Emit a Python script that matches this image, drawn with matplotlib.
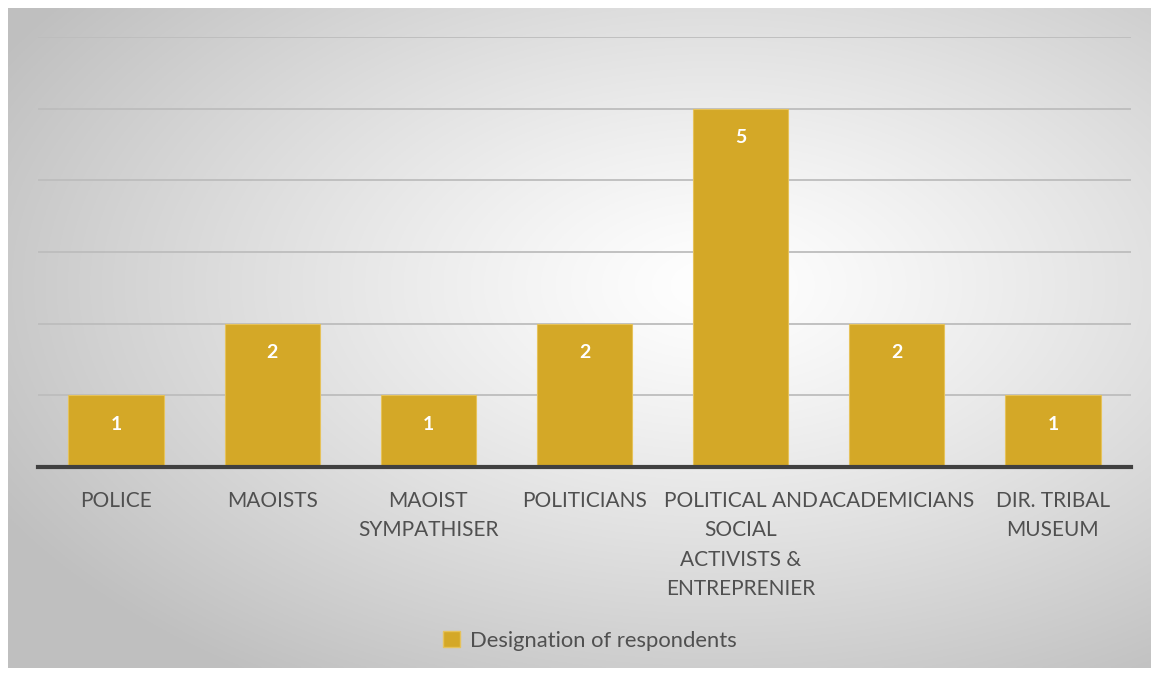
import numpy as np
import matplotlib
matplotlib.use("Agg")
import matplotlib.pyplot as plt
from matplotlib.patches import Patch

categories = ["POLICE", "MAOISTS", "MAOIST\nSYMPATHISER", "POLITICIANS",
              "POLITICAL AND\nSOCIAL\nACTIVISTS &\nENTREPRENIER", "ACADEMICIANS",
              "DIR. TRIBAL\nMUSEUM"]
values = [1, 2, 1, 2, 5, 2, 1]
series_name = "Designation of respondents"

W, H = 1159, 675
fig = plt.figure(figsize=(W / 100, H / 100), dpi=100)
fig.patch.set_facecolor("white")

# background box with radial gradient
bx0, by0, bx1, by1 = 8, 8, 1151, 668
bg = fig.add_axes([bx0 / W, 1 - by1 / H, (bx1 - bx0) / W, (by1 - by0) / H])
nx, ny = 600, 350
xx, yy = np.meshgrid(np.linspace(0, 1, nx), np.linspace(0, 1, ny))
cx, cy = 0.62, 0.42
d = np.sqrt(((xx - cx) / 0.72) ** 2 + ((yy - cy) / 0.72) ** 2)
d = np.clip(d, 0, 1)
val = 1.0 - 0.25 * d ** 1.2
img = np.dstack([val, val, val])
bg.imshow(img, extent=[0, 1, 0, 1], aspect="auto", origin="upper")
bg.set_axis_off()

fontfam = ["Lato", "DejaVu Sans"]

ax = fig.add_axes([38 / W, 1 - 467 / H, (1131 - 38) / W, (467 - 37) / H])
ax.patch.set_alpha(0)
x = np.arange(len(categories))
bar_color = "#D4A827"
bars = ax.bar(x, values, width=0.61, color=bar_color, edgecolor="#E6C25A",
              linewidth=0.8, zorder=3, label=series_name)
ax.set_xlim(-0.5, len(categories) - 0.5)
ax.set_ylim(0, 6)
ax.set_yticks(range(0, 7))
ax.yaxis.grid(True, color="#BDBDBD", linewidth=1.3, zorder=0)
ax.tick_params(axis="y", left=False, labelleft=False)
ax.tick_params(axis="x", bottom=False, length=0, pad=17)
for s in ["top", "right", "left"]:
    ax.spines[s].set_visible(False)
ax.spines["bottom"].set_color("#404040")
ax.spines["bottom"].set_linewidth(3)
ax.spines["bottom"].set_zorder(4)
ax.set_xticks(x)
ax.set_xticklabels(categories, fontsize=15, color="#505050", family=fontfam,
                   linespacing=1.6, va="top")

for b, v in zip(bars, values):
    ax.text(b.get_x() + b.get_width() / 2, v - 0.4, str(v), ha="center",
            va="center", color="white", fontsize=14, fontweight="bold",
            family=fontfam, zorder=5)

leg = fig.legend(handles=[Patch(facecolor=bar_color, edgecolor="#E6C25A")],
                 labels=[series_name], loc="center", bbox_to_anchor=(590 / W, 1 - 641 / H),
                 frameon=False, handlelength=0.75, handleheight=0.75,
                 handletextpad=0.45, prop={"family": fontfam, "size": 15.8})
for t in leg.get_texts():
    t.set_color("#505050")

fig.savefig("out.png", dpi=100, facecolor="white")
